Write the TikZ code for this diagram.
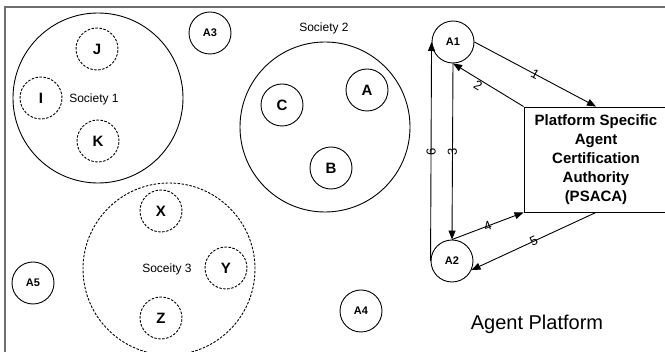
\documentclass[tikz,border=0pt]{standalone}
\usepackage{fontspec}
\setmainfont{Liberation Sans}
\usetikzlibrary{arrows.meta}
\definecolor{framegray}{HTML}{6E6E6E}
\tikzset{>/.tip={Triangle[length=9pt,width=7pt]}}
\tikzset{agent/.style={draw,circle,minimum size=42pt,inner sep=0pt,font=\fontsize{11}{12}\selectfont\bfseries},
  member/.style={agent,font=\fontsize{15}{16}\selectfont\bfseries},
  dmember/.style={member,dash pattern=on 2.5pt off 1.5pt},
  society/.style={draw,circle,minimum size=170pt,inner sep=0pt},
  caption/.style={font=\fontsize{12}{14}\selectfont},
  num/.style={font=\fontsize{13}{14}\selectfont,inner sep=1pt}}

\begin{document}
\begin{tikzpicture}[x=1pt,y=-1pt,line width=0.9pt]
\useasboundingbox (0,0) rectangle (665,352);
\draw[framegray,line width=2pt] (5,353) -- (5,7) -- (666,7);

\node[society] (soc1) at (98,98) {};
\node[society] (soc2) at (325,127) {};
\node[society,minimum size=172pt,dash pattern=on 2.5pt off 1.5pt] (soc3) at (169,269) {};
\node[caption] (soc1lbl) at (94,99) {Society 1};
\node[caption] (soc2lbl) at (324,28) {Society 2};
\node[caption] (soc3lbl) at (167,269) {Soceity 3};

\node[dmember] (J) at (97,49) {J};
\node[dmember] (I) at (41,98) {I};
\node[dmember] (K) at (98,141) {K};
\node[member] (A) at (367,90) {A};
\node[member] (C) at (282,105) {C};
\node[member] (B) at (331,168) {B};
\node[dmember] (X) at (161,211) {X};
\node[dmember] (Y) at (226,268) {Y};
\node[dmember] (Z) at (161,318) {Z};

\node[agent] (A3) at (210,33) {A3};
\node[agent] (A5) at (33,283) {A5};
\node[agent] (A4) at (361,311) {A4};
\node[agent] (A1) at (453,42) {A1};
\node[agent] (A2) at (452,261) {A2};

\node[draw,minimum width=144pt,minimum height=105pt,align=center,font=\fontsize{15}{19}\selectfont\bfseries] (psaca) at (596,159.5) {Platform Specific\\Agent\\Certification\\Authority\\(PSACA)};
\node[font=\fontsize{20}{22}\selectfont] (platform) at (537,324) {Agent Platform};

\draw[->] (A1.east) -- node[num,sloped] {1} (psaca.north);
\draw[->] (psaca.north west) -- node[num,sloped,pos=.6,below] {2} (A1.south);
\draw[->] (A1.south) -- node[num,rotate=90] {3} (A2.north);
\draw[->] (A2.north) -- node[num,sloped] {4} (psaca.south west);
\draw[->] (psaca.south) -- node[num,sloped] {5} (A2.-25);
\draw[->] (A2.west) -- node[num,rotate=90] {6} (A1.west);
\end{tikzpicture}
\end{document}
